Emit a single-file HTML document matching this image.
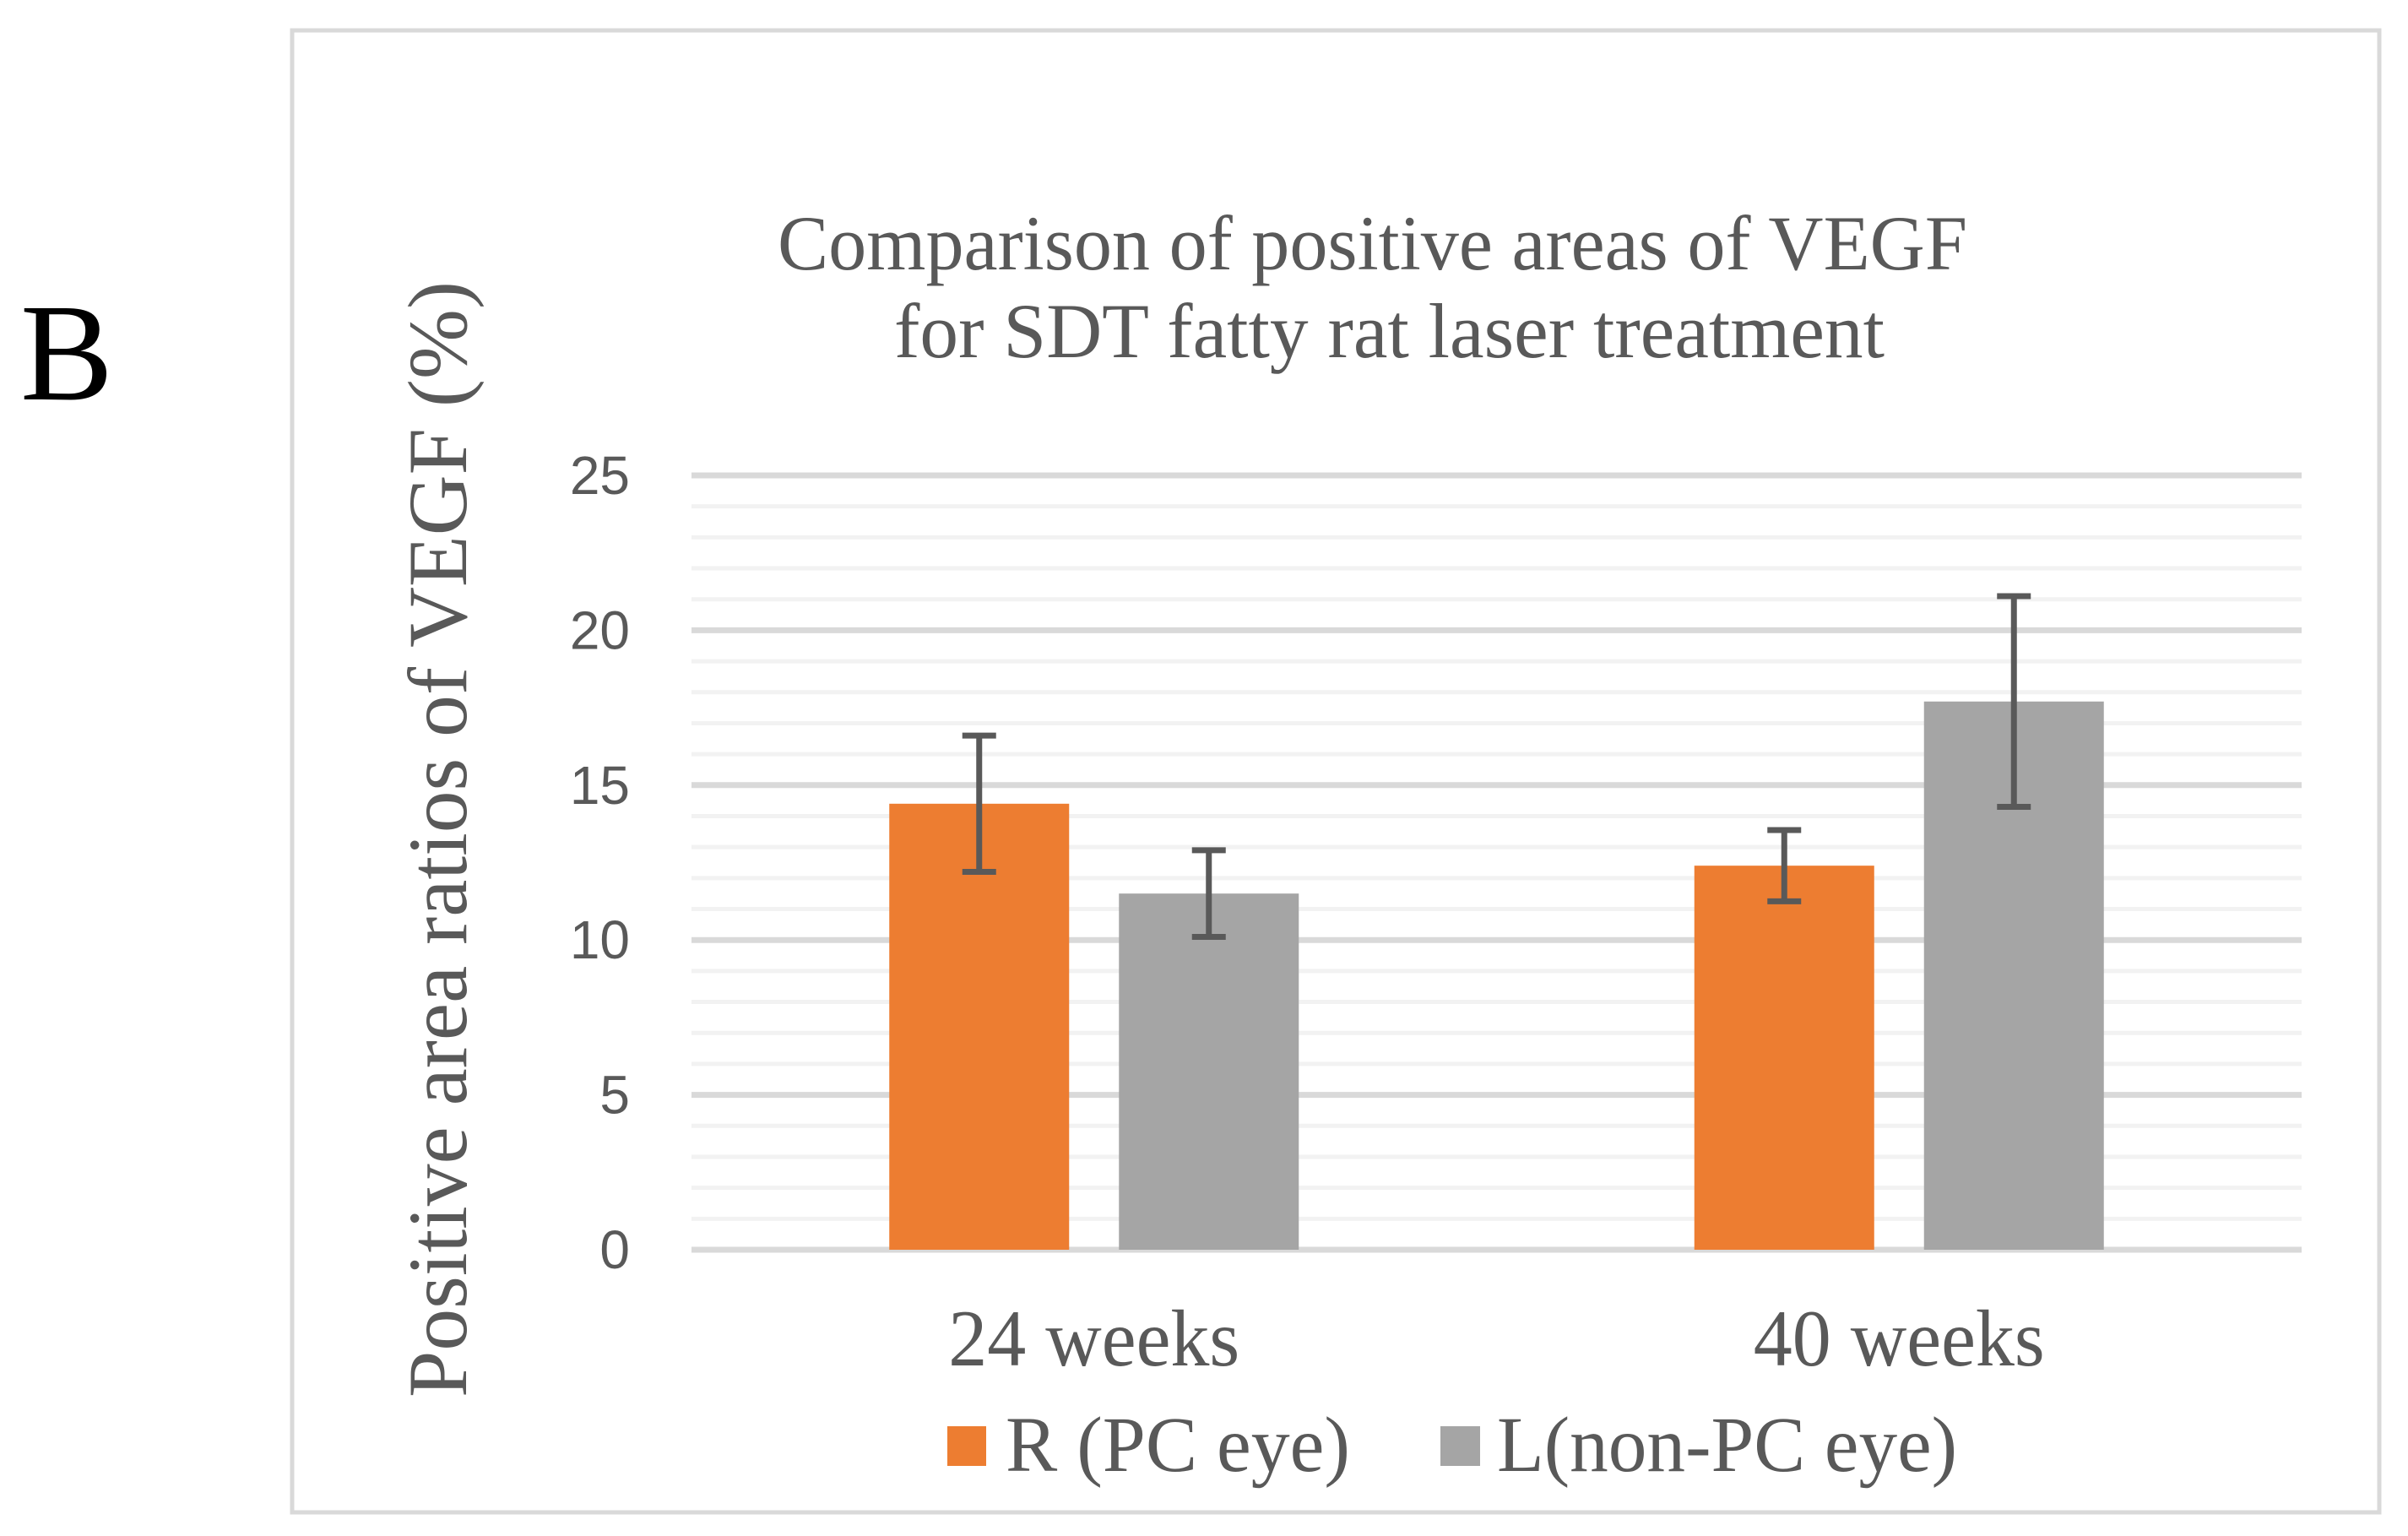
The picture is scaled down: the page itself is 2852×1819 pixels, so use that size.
<!DOCTYPE html>
<html><head><meta charset="utf-8"><style>
html,body{margin:0;padding:0;background:#fff;}
svg{display:block;}
</style></head><body>
<svg id="chart" width="2852" height="1819" viewBox="0 0 2852 1819" xmlns="http://www.w3.org/2000/svg">
<text x="24" y="473" font-family="Liberation Serif, serif" font-size="165" fill="#000">B</text>
<rect x="346" y="36" width="2472" height="1755" fill="#fff" stroke="#d9d9d9" stroke-width="5"/>
<text x="921" y="319" textLength="1409" lengthAdjust="spacingAndGlyphs" font-family="Liberation Serif, serif" font-size="92" fill="#595959">Comparison of positive areas of VEGF</text>
<text x="1059" y="423" textLength="1173" lengthAdjust="spacingAndGlyphs" font-family="Liberation Serif, serif" font-size="92" fill="#595959">for SDT fatty rat laser treatment</text>
<text transform="translate(552,1655) rotate(-90)" x="0" y="0" textLength="1322" lengthAdjust="spacingAndGlyphs" font-family="Liberation Serif, serif" font-size="100" fill="#595959">Positive area ratios of VEGF (%)</text>
<g id="grid"></g>
<g id="yticks"></g>
<g id="bars"></g>
<g id="errs"></g>
<g id="xlabels"></g>
<g>
  <rect x="1122" y="1689" width="46" height="47" fill="#ed7d31"/>
  <text x="1191" y="1742" textLength="408" lengthAdjust="spacingAndGlyphs" font-family="Liberation Serif, serif" font-size="93" fill="#595959">R (PC eye)</text>
  <rect x="1706" y="1689" width="47" height="47" fill="#a5a5a5"/>
  <text x="1773" y="1742" textLength="545" lengthAdjust="spacingAndGlyphs" font-family="Liberation Serif, serif" font-size="93" fill="#595959">L(non-PC eye)</text>
</g>
</svg>
<script>
const categories = ["24 weeks", "40 weeks"];
const seriesR = [14.4, 12.4];
const seriesL = [11.5, 17.7];
const errR = [2.2, 1.15];
const errL = [1.4, 3.4];
const yTicks = [0, 5, 10, 15, 20, 25];
const NS = "http://www.w3.org/2000/svg";
const x0 = 819, x1 = 2726, yZero = 1480, yTop = 563, yMax = 25;
const yScale = v => yZero - (v / yMax) * (yZero - yTop);
const groupW = (x1 - x0) / categories.length;
const barW = 213, gap = 59;
function mk(tag, attrs, parent) {
  const e = document.createElementNS(NS, tag);
  for (const k in attrs) e.setAttribute(k, attrs[k]);
  parent.appendChild(e);
  return e;
}
const grid = document.getElementById('grid');
for (let v = 0; v <= yMax; v++) {
  const major = v % 5 === 0;
  const l = mk('line', {x1: x0, x2: x1, y1: yScale(v), y2: yScale(v), stroke: major ? '#d9d9d9' : '#f2f2f2', 'stroke-width': major ? 7 : 5}, grid);
  
  
}
const yt = document.getElementById('yticks');
yTicks.forEach(v => {
  const t = mk('text', {x: 746, y: yScale(v) + 22, 'text-anchor': 'end', 'font-family': 'Liberation Sans Narrow, Liberation Sans, sans-serif', 'font-size': 64, fill: '#595959'}, yt);
  t.textContent = v;
  
  
});
const bars = document.getElementById('bars'), errs = document.getElementById('errs'), xl = document.getElementById('xlabels');
function errBar(cx, v, e) {
  const a = {stroke: '#595959', 'stroke-width': 7};
  const g = mk('g', a, errs);
  
  
  mk('line', {x1: cx, x2: cx, y1: yScale(v + e), y2: yScale(v - e)}, g);
  mk('line', {x1: cx - 20, x2: cx + 20, y1: yScale(v + e), y2: yScale(v + e)}, g);
  mk('line', {x1: cx - 20, x2: cx + 20, y1: yScale(v - e), y2: yScale(v - e)}, g);
}
categories.forEach((c, i) => {
  const cx = x0 + groupW * (i + 0.5);
  const rx = cx - gap / 2 - barW, lx = cx + gap / 2;
  const b1 = mk('rect', {x: rx, y: yScale(seriesR[i]), width: barW, height: yZero - yScale(seriesR[i]), fill: '#ed7d31'}, bars);
  
  
  const b2 = mk('rect', {x: lx, y: yScale(seriesL[i]), width: barW, height: yZero - yScale(seriesL[i]), fill: '#a5a5a5'}, bars);
  
  
  errBar(rx + barW / 2, seriesR[i], errR[i]);
  errBar(lx + barW / 2, seriesL[i], errL[i]);
  const t = mk('text', {x: cx, y: 1617, 'text-anchor': 'middle', textLength: 345, lengthAdjust: 'spacingAndGlyphs', 'font-family': 'Liberation Serif, serif', 'font-size': 95, fill: '#595959'}, xl);
  t.textContent = c;
  
  
});
</script>
</body></html>
